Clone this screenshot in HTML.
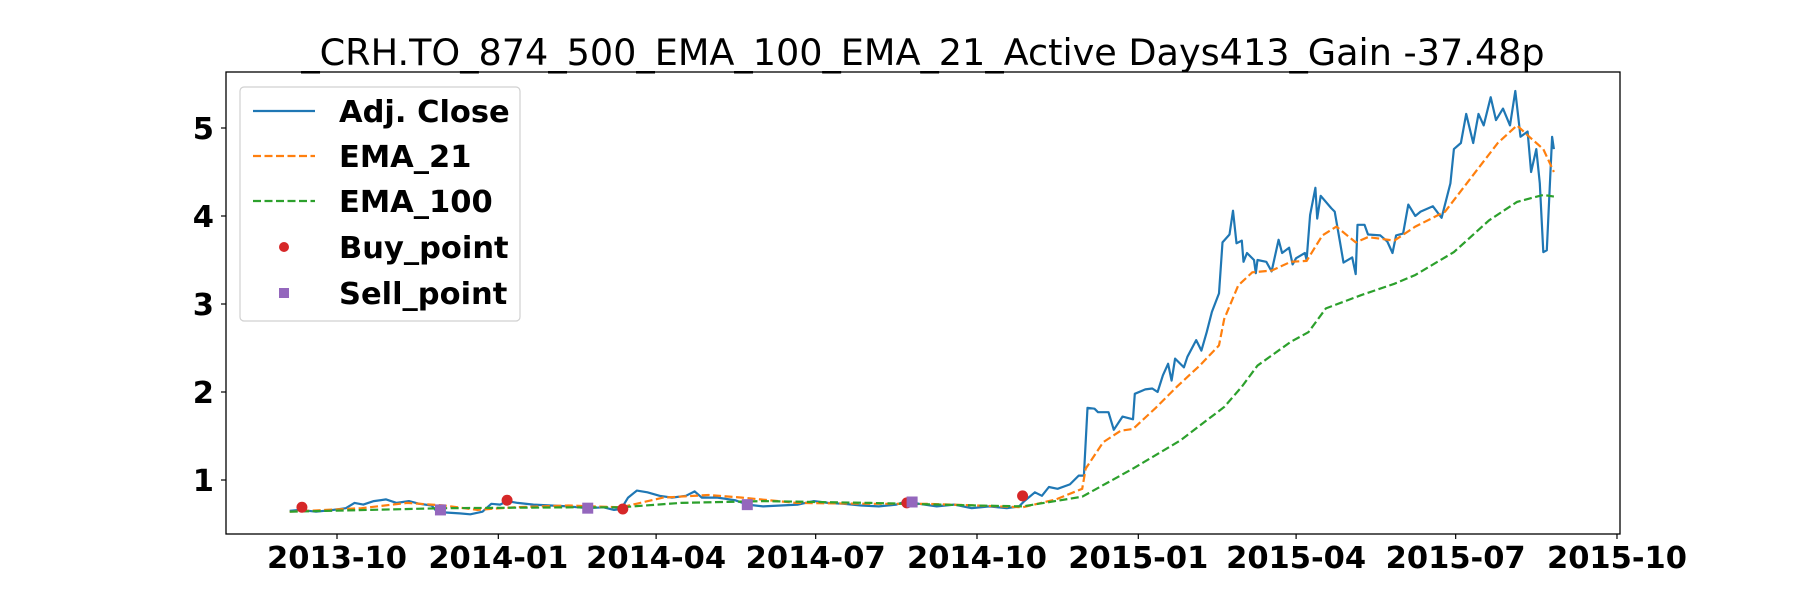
<!DOCTYPE html>
<html><head><meta charset="utf-8">
<style>
body{margin:0;background:#fff;}
svg{display:block;font-family:"DejaVu Sans","Liberation Sans",sans-serif;}
</style></head>
<body>
<svg id="chart" width="1800" height="600" viewBox="0 0 1800 600" xmlns="http://www.w3.org/2000/svg">
<rect x="0" y="0" width="1800" height="600" fill="#fff"/>
<text x="923" y="65" font-size="36.6" text-anchor="middle" fill="#000">_CRH.TO_874_500_EMA_100_EMA_21_Active Days413_Gain -37.48p</text>
<g id="plot"></g>
<rect x="226" y="72" width="1394" height="462" fill="none" stroke="#000" stroke-width="1.3"/>
<g id="axes"></g>
<g>
<rect x="240" y="87" width="280" height="234" rx="4" fill="#fff" fill-opacity="0.85" stroke="#d0d0d0" stroke-width="1.2"/>
<line x1="253" y1="111" x2="315" y2="111" stroke="#1f77b4" stroke-width="2.2"/>
<text x="339" y="122" font-size="30.5" font-weight="bold">Adj. Close</text>
<line x1="253" y1="156" x2="315" y2="156" stroke="#ff7f0e" stroke-width="2.2" stroke-dasharray="8,3.5"/>
<text x="339" y="167" font-size="30.5" font-weight="bold">EMA_21</text>
<line x1="253" y1="201" x2="315" y2="201" stroke="#2ca02c" stroke-width="2.2" stroke-dasharray="8,3.5"/>
<text x="339" y="212" font-size="30.5" font-weight="bold">EMA_100</text>
<circle cx="284" cy="247" r="5" fill="#d62728"/>
<text x="339" y="258" font-size="30.5" font-weight="bold">Buy_point</text>
<rect x="279" y="288" width="10" height="10" fill="#9467bd"/>
<text x="339" y="304" font-size="30.5" font-weight="bold">Sell_point</text>
</g>
</svg>
<script>
const closeDates=["2013-09-04","2013-09-10","2013-09-19","2013-09-29","2013-10-06","2013-10-11","2013-10-16","2013-10-22","2013-10-29","2013-11-04","2013-11-11","2013-11-17","2013-11-24","2013-11-27","2013-12-03","2013-12-10","2013-12-16","2013-12-23","2013-12-28","2014-01-02","2014-01-06","2014-01-12","2014-01-21","2014-01-31","2014-02-10","2014-02-21","2014-03-02","2014-03-08","2014-03-12","2014-03-16","2014-03-21","2014-03-27","2014-04-03","2014-04-10","2014-04-18","2014-04-23","2014-04-27","2014-05-06","2014-05-16","2014-05-23","2014-06-01","2014-06-11","2014-06-21","2014-06-30","2014-07-08","2014-07-17","2014-07-27","2014-08-06","2014-08-16","2014-08-22","2014-08-29","2014-09-08","2014-09-18","2014-09-28","2014-10-08","2014-10-18","2014-10-25","2014-10-28","2014-11-03","2014-11-07","2014-11-11","2014-11-16","2014-11-23","2014-11-28","2014-12-01","2014-12-03","2014-12-07","2014-12-09","2014-12-15","2014-12-18","2014-12-23","2014-12-29","2014-12-30","2015-01-05","2015-01-09","2015-01-12","2015-01-15","2015-01-18","2015-01-20","2015-01-22","2015-01-27","2015-01-29","2015-02-03","2015-02-06","2015-02-09","2015-02-12","2015-02-16","2015-02-18","2015-02-22","2015-02-24","2015-02-26","2015-03-01","2015-03-02","2015-03-04","2015-03-08","2015-03-09","2015-03-10","2015-03-15","2015-03-18","2015-03-22","2015-03-24","2015-03-28","2015-03-30","2015-04-01","2015-04-06","2015-04-07","2015-04-09","2015-04-12","2015-04-13","2015-04-15","2015-04-21","2015-04-23","2015-04-26","2015-04-28","2015-05-03","2015-05-05","2015-05-06","2015-05-10","2015-05-12","2015-05-19","2015-05-23","2015-05-26","2015-05-28","2015-06-01","2015-06-04","2015-06-08","2015-06-11","2015-06-18","2015-06-23","2015-06-28","2015-06-30","2015-07-04","2015-07-07","2015-07-11","2015-07-14","2015-07-17","2015-07-21","2015-07-24","2015-07-28","2015-08-01","2015-08-04","2015-08-07","2015-08-11","2015-08-13","2015-08-16","2015-08-18","2015-08-20","2015-08-22","2015-08-25","2015-08-26"];
const closeValues=[0.65,0.66,0.64,0.66,0.68,0.74,0.72,0.76,0.78,0.74,0.76,0.73,0.71,0.64,0.63,0.62,0.61,0.64,0.73,0.72,0.76,0.74,0.72,0.71,0.70,0.68,0.69,0.66,0.67,0.80,0.88,0.86,0.82,0.80,0.82,0.87,0.80,0.80,0.77,0.72,0.70,0.71,0.72,0.76,0.74,0.73,0.71,0.70,0.72,0.76,0.73,0.70,0.72,0.68,0.70,0.68,0.70,0.76,0.86,0.82,0.92,0.90,0.95,1.05,1.05,1.82,1.81,1.77,1.77,1.57,1.72,1.69,1.98,2.03,2.04,2.00,2.19,2.32,2.13,2.38,2.28,2.40,2.59,2.47,2.68,2.91,3.12,3.70,3.79,4.06,3.69,3.72,3.48,3.58,3.50,3.35,3.50,3.48,3.37,3.73,3.58,3.64,3.45,3.52,3.58,3.50,4.01,4.32,3.97,4.23,4.09,4.05,3.71,3.47,3.53,3.34,3.90,3.90,3.79,3.78,3.71,3.58,3.78,3.80,4.13,4.00,4.05,4.11,3.98,4.37,4.76,4.83,5.16,4.83,5.16,5.03,5.35,5.09,5.22,5.03,5.42,4.90,4.96,4.50,4.76,4.37,3.59,3.61,4.90,4.76];
const ema21Dates=["2013-09-04","2013-10-15","2013-11-10","2013-12-01","2013-12-20","2014-01-10","2014-02-10","2014-03-12","2014-04-05","2014-05-01","2014-05-20","2014-06-20","2014-08-01","2014-09-01","2014-10-01","2014-10-27","2014-11-15","2014-11-30","2014-12-02","2014-12-12","2014-12-22","2014-12-29","2015-01-11","2015-01-23","2015-02-05","2015-02-16","2015-02-19","2015-02-27","2015-03-07","2015-03-18","2015-03-29","2015-04-07","2015-04-16","2015-04-24","2015-05-05","2015-05-12","2015-05-27","2015-06-08","2015-06-25","2015-07-10","2015-07-25","2015-08-05","2015-08-12","2015-08-20","2015-08-26"];
const ema21Values=[0.64,0.68,0.74,0.71,0.66,0.69,0.71,0.69,0.80,0.83,0.80,0.74,0.73,0.73,0.71,0.69,0.78,0.90,1.13,1.43,1.56,1.58,1.82,2.06,2.30,2.53,2.83,3.21,3.36,3.38,3.48,3.49,3.78,3.88,3.70,3.76,3.72,3.88,4.05,4.44,4.83,5.03,4.90,4.76,4.50];
const ema100Dates=["2013-09-04","2013-12-01","2014-02-15","2014-03-12","2014-04-15","2014-06-01","2014-08-01","2014-10-01","2014-10-27","2014-11-30","2014-12-29","2015-01-25","2015-02-19","2015-03-01","2015-03-10","2015-03-29","2015-04-08","2015-04-18","2015-05-08","2015-05-27","2015-06-08","2015-06-30","2015-07-20","2015-08-05","2015-08-20","2015-08-26"];
const ema100Values=[0.64,0.68,0.69,0.69,0.74,0.76,0.74,0.71,0.70,0.81,1.13,1.45,1.83,2.06,2.30,2.57,2.68,2.95,3.10,3.23,3.33,3.59,3.95,4.16,4.24,4.22];
const buyDates=["2013-09-11","2014-01-06","2014-03-13","2014-08-22","2014-10-27"];
const buyValues=[0.69,0.77,0.67,0.74,0.82];
const sellDates=["2013-11-29","2014-02-21","2014-05-23","2014-08-25"];
const sellValues=[0.66,0.68,0.72,0.75];
const yTicks=[1,2,3,4,5];
const xTickLabels=["2013-10","2014-01","2014-04","2014-07","2014-10","2015-01","2015-04","2015-07","2015-10"];

const NS="http://www.w3.org/2000/svg";
const T0=Date.UTC(2013,9,1);
function xScale(d){const p=d.split("-");const t=Date.UTC(+p[0],+p[1]-1,p[2]?+p[2]:1);return 337+(t-T0)/86400000*1.7534;}
function yScale(v){return 568-v*88;}
const plot=document.getElementById("plot");
const axes=document.getElementById("axes");
function mk(tag,attrs,parent){const e=document.createElementNS(NS,tag);for(const k in attrs)e.setAttribute(k,attrs[k]);parent.appendChild(e);return e;}
function pathFrom(ds,vs){return ds.map((d,i)=>(i?"L":"M")+xScale(d).toFixed(1)+","+yScale(vs[i]).toFixed(1)).join(" ");}

let e=mk("path",{d:pathFrom(closeDates,closeValues),fill:"none",stroke:"#1f77b4","stroke-width":2.2,"stroke-linejoin":"round"},plot);


e=mk("path",{d:pathFrom(ema21Dates,ema21Values),fill:"none",stroke:"#ff7f0e","stroke-width":2.2,"stroke-dasharray":"8,3.5"},plot);


e=mk("path",{d:pathFrom(ema100Dates,ema100Values),fill:"none",stroke:"#2ca02c","stroke-width":2.2,"stroke-dasharray":"8,3.5"},plot);


buyDates.forEach((d,i)=>{const c=mk("circle",{cx:xScale(d),cy:yScale(buyValues[i]),r:5.5,fill:"#d62728"},plot);

});
sellDates.forEach((d,i)=>{const r=mk("rect",{x:xScale(d)-5.5,y:yScale(sellValues[i])-5.5,width:11,height:11,fill:"#9467bd"},plot);

});

yTicks.forEach(v=>{const y=yScale(v);
const l=mk("line",{x1:221,y1:y,x2:226,y2:y,stroke:"#000","stroke-width":1.2},axes);


const t=mk("text",{x:214,y:y+11,"font-size":30.5,"font-weight":"bold","text-anchor":"end"},axes);
t.textContent=String(v);

});
xTickLabels.forEach(s=>{const x=xScale(s);
const l=mk("line",{x1:x,y1:534,x2:x,y2:539,stroke:"#000","stroke-width":1.2},axes);


const t=mk("text",{x:x,y:568,"font-size":30.5,"font-weight":"bold","text-anchor":"middle"},axes);
t.textContent=s;

});
</script>
</body></html>
